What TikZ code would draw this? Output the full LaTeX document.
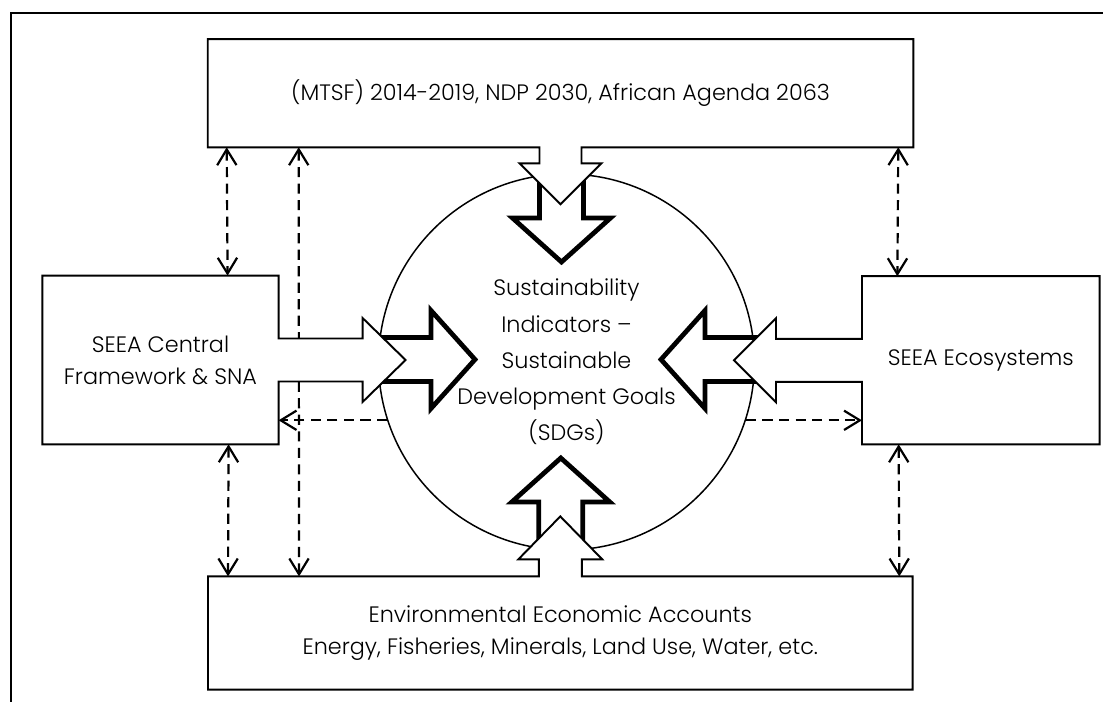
\documentclass[tikz,border=0pt]{standalone}
\usepackage{fontspec}
\setmainfont{Poppins Light}
\usetikzlibrary{arrows.meta,calc}

\begin{document}
\begin{tikzpicture}[x=0.02cm, y=-0.02cm,
    every node/.style={font=\fontsize{12.7}{18.2}\selectfont, align=center},
    box/.style={inner sep=0pt},
    outline/.style={line width=1.1pt, line join=miter},
    fat/.style={line width=2.7pt, fill=white, line join=miter},
    dasharrow/.style={line width=1.25pt, dash pattern=on 5.8pt off 3.6pt},
    >={Straight Barb[length=9pt,width=11pt]}]
    \useasboundingbox (0,0) rectangle (1103,702);
    \draw [line width=0.85pt] (11,702) -- (11,13) -- (1103,13);

    \foreach \px/\py/\a/\l in {561.5/262/-90/92, 475/359.5/0/105, 661/359.5/180/106, 560.8/458/90/92} {
      \draw [fat, shift={(\px,\py)}, rotate=\a] (0,0) -- (-44,49) -- (-44,22) -- (-\l,22)
        -- (-\l,-22) -- (-44,-22) -- (-44,-49) -- cycle;
    }

    \node [box, minimum width=14.1cm, minimum height=2.15cm] (plans) at (560.5,93.2)
      {(MTSF) 2014-2019, NDP 2030, African Agenda 2063};
    \node [box, minimum width=4.71cm, minimum height=3.36cm] (central) at (160.5,360)
      {SEEA Central\\Framework \& SNA};
    \node [box, minimum width=4.74cm, minimum height=3.35cm] (eco) at (980.8,360.3)
      {SEEA Ecosystems};
    \node [box, minimum width=14.08cm, minimum height=2.25cm] (accounts) at (560.3,633)
      {Environmental Economic Accounts\\Energy, Fisheries, Minerals, Land Use, Water, etc.};
    \node [circle, draw, line width=0.85pt, minimum size=7.52cm, inner sep=0pt,
      font=\fontsize{12.7}{20.6}\selectfont] (sdg) at (566.5,362)
      {Sustainability\\Indicators --\\Sustainable\\Development Goals\\(SDGs)};

    \draw [dasharrow, <->] ($(plans.south west)+(19,0)$) -- ($(central.north east)+(-51,0)$);
    \draw [dasharrow, <->] ($(plans.south west)+(91,0)$) -- ($(accounts.north west)+(91,0)$);
    \draw [dasharrow, <->] ($(plans.south east)+(-15,0)$) -- ($(eco.north west)+(35.4,0)$);
    \draw [dasharrow, <->] ($(central.south east)+(-50,0)$) -- ($(accounts.north west)+(20,0)$);
    \draw [dasharrow, <->] ($(eco.south west)+(36.7,0)$) -- ($(accounts.north east)+(-13.3,0)$);
    \draw [dasharrow, ->] (sdg.198) -- (sdg.198 -| central.east);
    \draw [dasharrow, ->] (sdg.-18) -- (sdg.-18 -| eco.west);

    \fill [white] ($(plans.south)+(-21,0)$) -- ++(0,16) -- ++(-20,0) -- ++(41,41) -- ++(41,-41)
      -- ++(-20,0) -- ++(0,-16) -- cycle;
    \draw [outline] (plans.south west) -- (plans.north west) -- (plans.north east) -- (plans.south east)
      -- ($(plans.south)+(21,0)$) -- ++(0,16) -- ++(20,0) -- ++(-41,41) -- ++(-41,-41) -- ++(20,0)
      -- ++(0,-16) -- cycle;

    \fill [white] ($(central.east)+(0,-21.5)$) -- ++(84,0) -- ++(0,-20.5) -- ++(43,42) -- ++(-43,42)
      -- ++(0,-20.5) -- ++(-84,0) -- cycle;
    \draw [outline] (central.north east) -- (central.north west) -- (central.south west) -- (central.south east)
      -- ($(central.east)+(0,21.5)$) -- ++(84,0) -- ++(0,20.5) -- ++(43,-42) -- ++(-43,-42) -- ++(0,20.5)
      -- ++(-84,0) -- cycle;

    \fill [white] ($(eco.west)+(0,-21.5)$) -- ++(-86,0) -- ++(0,-20.5) -- ++(-42,42) -- ++(42,42)
      -- ++(0,-20.5) -- ++(86,0) -- cycle;
    \draw [outline] (eco.north west) -- (eco.north east) -- (eco.south east) -- (eco.south west)
      -- ($(eco.west)+(0,21.5)$) -- ++(-86,0) -- ++(0,20.5) -- ++(-42,-42) -- ++(42,-42) -- ++(0,20.5)
      -- ++(86,0) -- cycle;

    \fill [white] ($(accounts.north)+(-21.5,0)$) -- ++(0,-17) -- ++(-20.5,0) -- ++(42,-43) -- ++(42,43)
      -- ++(-20.5,0) -- ++(0,17) -- cycle;
    \draw [outline] (accounts.north west) -- (accounts.south west) -- (accounts.south east) -- (accounts.north east)
      -- ($(accounts.north)+(21.5,0)$) -- ++(0,-17) -- ++(20.5,0) -- ++(-42,-43) -- ++(-42,43) -- ++(20.5,0)
      -- ++(0,17) -- cycle;
  \end{tikzpicture}
\end{document}
